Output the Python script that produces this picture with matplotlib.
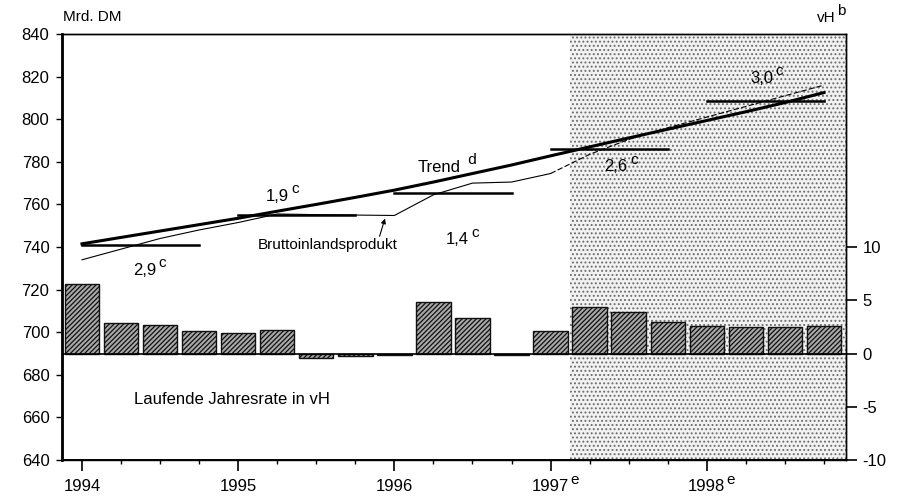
import matplotlib
matplotlib.use("Agg")
import matplotlib.pyplot as plt
from matplotlib.ticker import MultipleLocator

plt.rcParams["font.family"] = ["Liberation Sans", "DejaVu Sans"]
plt.rcParams["hatch.linewidth"] = 0.9

# quarterly positions 1994 Q1 .. 1998 Q4
years = [1994, 1995, 1996, 1997, 1998]
quarters = [y + q * 0.25 for y in years for q in range(4)]

# Bruttoinlandsprodukt, Mrd. DM (seasonally adjusted)
gdp = [734.0, 739.0, 744.0, 748.0,
       751.5, 755.5, 755.2, 755.0,
       754.8, 764.5, 770.0, 770.5,
       774.5, 783.5, 790.5, 796.0,
       801.0, 806.0, 811.0, 816.0]

# Trend
trend = [741.5, 744.5, 747.5, 750.5,
         753.5, 756.8, 760.0, 763.3,
         766.7, 770.5, 774.5, 778.5,
         782.8, 787.0, 791.2, 795.3,
         799.4, 803.5, 807.8, 812.5]

# annual averages and growth rates
annual_avg = [741.0, 755.0, 765.5, 786.0, 808.5]
annual_rate = ["2,9", "1,9", "1,4", "2,6", "3,0"]

# laufende Jahresrate in vH
rate = [6.5, 2.9, 2.7, 2.1,
        1.9, 2.2, -0.4, -0.25,
        -0.1, 4.85, 3.3, -0.1,
        2.1, 4.4, 3.9, 3.0,
        2.6, 2.5, 2.5, 2.6]

xlabels = ["1994", "1995", "1996", "1997", "1998"]
xsup = ["", "", "", "e", "e"]

fig = plt.figure(figsize=(9.01, 4.98), dpi=100)
ax = fig.add_axes([0.0688, 0.0763, 0.8701, 0.8554])
ax2 = ax.twinx()

x0, x1 = 1993.872, 1998.891
ax.set_xlim(x0, x1)
ax.set_ylim(640, 840)
ax2.set_ylim(-10, 30)

# forecast shading
ax.axvspan(1997.125, x1, facecolor="#f2f2f2", hatch="....", edgecolor="#6e6e6e",
           lw=0, zorder=0)

# bars on right axis
ax2.bar(quarters, rate, width=0.22, facecolor="#a8a8a8", edgecolor="#111111",
        hatch="///////", lw=1.0, zorder=2)
ax2.axhline(0, color="black", lw=1.2, zorder=3)

# lines
split = 12
ax.plot(quarters[:split + 1], gdp[:split + 1], color="black", lw=0.8, zorder=4)
ax.plot(quarters[split:], gdp[split:], color="black", lw=0.8, ls=(0, (5, 2)), zorder=4)
ax.plot(quarters, trend, color="black", lw=2.2, zorder=5)

for i, y in enumerate(years):
    ax.plot([y, y + 0.75], [annual_avg[i]] * 2, color="black", lw=1.8, zorder=5)


def sup_on(t, sup, size, dx=2):
    ax.annotate(sup, xy=(1.0, 0.5), xycoords=t, xytext=(dx, 0),
                textcoords="offset points", ha="left", va="bottom",
                fontsize=size, zorder=6, annotation_clip=False)


def label(x, y, base, sup, ha="center", size=12):
    t = ax.text(x, y, base, ha=ha, va="center", fontsize=size, zorder=6)
    sup_on(t, sup, size - 1)


# rate labels
lab_pos = [(1994.40, 729.2), (1995.25, 763.8), (1996.40, 743.3),
           (1997.42, 777.7), (1998.35, 819.3)]
for (lx, ly), r in zip(lab_pos, annual_rate):
    label(lx, ly, r, "c")

label(1996.15, 777.5, "Trend", " d", ha="left")
ax.text(1995.57, 741.0, "Bruttoinlandsprodukt", ha="center", va="center", fontsize=11)
ax.annotate("", xy=(1995.945, 754.6), xytext=(1995.90, 743.8),
            arrowprops=dict(arrowstyle="-|>", color="black", lw=0.8,
                            mutation_scale=7))
ax.text(1994.33, 668.6, "Laufende Jahresrate in vH", ha="left", va="center",
        fontsize=12)

fig.text(63 / 901, 1 - 17 / 498, "Mrd. DM", ha="left", va="center", fontsize=11)
t_vh = fig.text(836 / 901, 1 - 18 / 498, "vH", ha="right", va="center", fontsize=11)
sup_on(t_vh, "b", 11, dx=1)

# axes formatting
ax.set_xticks(years)
ax.set_xticklabels(xlabels)
ax.xaxis.set_minor_locator(MultipleLocator(0.25))
ax.set_yticks(range(640, 841, 20))
ax.tick_params(axis="x", which="major", length=8, width=1.2, labelsize=12, pad=6)
ax.tick_params(axis="x", which="minor", length=3, width=1.0)
ax.tick_params(axis="y", length=4, width=1.0, labelsize=12, pad=5)

for t, s in zip(ax.get_xticklabels(), xsup):
    if s:
        sup_on(t, s, 11, dx=0.5)

ax2.set_yticks([-10, -5, 0, 5, 10])
ax2.set_yticklabels(["-10", "-5", "0", "5", "10"])
ax2.tick_params(axis="y", length=8, width=1.2, labelsize=12, pad=4)

for a in (ax, ax2):
    for s in a.spines.values():
        s.set_linewidth(1.0)
ax.spines["left"].set_linewidth(2.0)
ax.spines["bottom"].set_linewidth(1.4)

fig.savefig("out.png", dpi=100)
